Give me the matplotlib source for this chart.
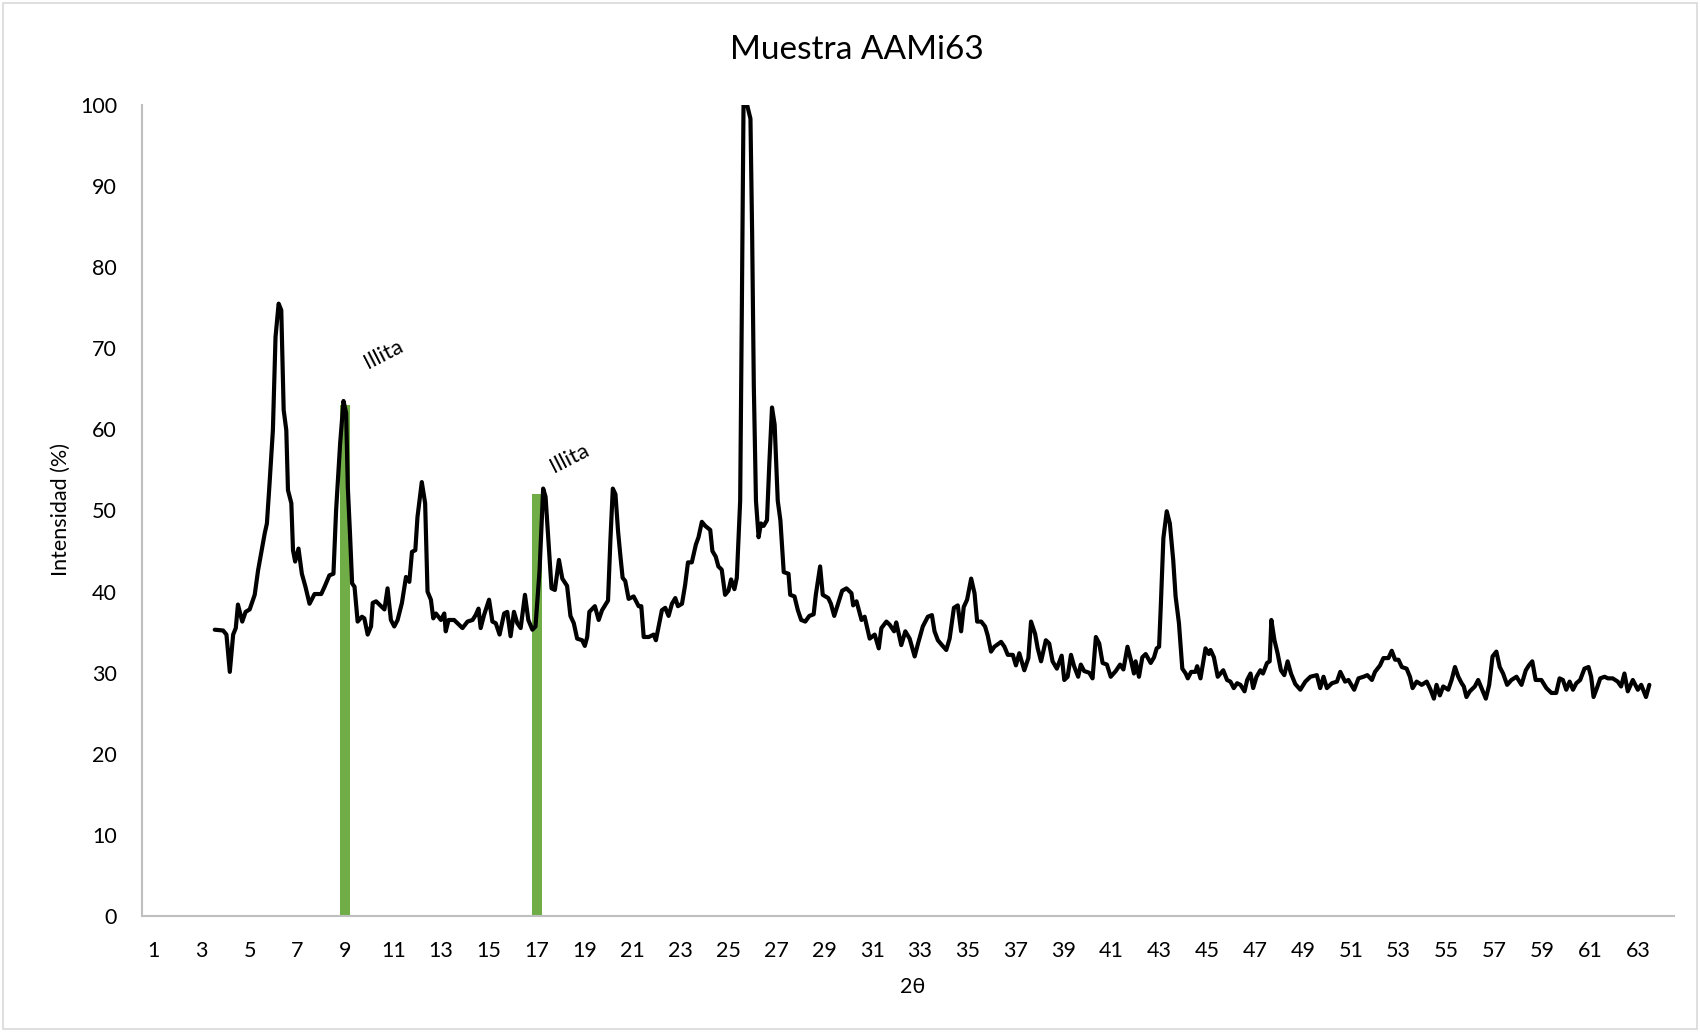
import matplotlib
matplotlib.use("Agg")
import matplotlib.pyplot as plt
import matplotlib.patches as mpatches

plt.rcParams['font.family'] = ['Lato', 'DejaVu Sans']

# Difractograma (2θ, intensidad relativa %)
two_theta = [
    3.54, 3.89, 4.03, 4.17, 4.31, 4.42, 4.51, 4.69, 4.83, 5.00,
    5.21, 5.35, 5.49, 5.63, 5.72, 5.83, 5.97, 6.08, 6.21, 6.32,
    6.42, 6.53, 6.60, 6.74, 6.81, 6.90, 7.04, 7.18, 7.33, 7.50,
    7.71, 7.99, 8.13, 8.33, 8.50, 8.61, 8.78, 8.92, 9.03, 9.10,
    9.19, 9.28, 9.38, 9.51, 9.69, 9.79, 9.93, 10.07, 10.14, 10.28,
    10.63, 10.76, 10.90, 11.04, 11.18, 11.36, 11.53, 11.67, 11.78, 11.92,
    12.01, 12.19, 12.33, 12.43, 12.57, 12.67, 12.78, 12.99, 13.13, 13.19,
    13.31, 13.54, 13.89, 14.10, 14.31, 14.44, 14.56, 14.65, 14.79, 15.00,
    15.14, 15.28, 15.44, 15.63, 15.76, 15.90, 16.04, 16.18, 16.32, 16.50,
    16.64, 16.81, 16.94, 17.11, 17.26, 17.36, 17.47, 17.61, 17.75,
    17.92, 18.06, 18.26, 18.40, 18.54, 18.68, 18.89, 19.00, 19.10, 19.19,
    19.42, 19.58, 19.72, 19.97, 20.07, 20.17, 20.28, 20.39, 20.49, 20.58,
    20.69, 20.83, 21.04, 21.25, 21.36, 21.46, 21.67, 21.88, 21.97, 22.08,
    22.22, 22.36, 22.50, 22.64, 22.78, 22.89, 23.06, 23.19, 23.31, 23.47,
    23.64, 23.75, 23.89, 24.03, 24.24, 24.33, 24.47, 24.58, 24.72, 24.86,
    25.00, 25.11, 25.25, 25.35, 25.49, 25.56, 25.63, 25.78, 25.92, 25.99,
    26.06, 26.15, 26.26, 26.36, 26.47, 26.61, 26.71, 26.82, 26.93, 27.06,
    27.17, 27.31, 27.51, 27.58, 27.76, 27.90, 28.04, 28.21, 28.38, 28.56,
    28.65, 28.83, 28.94, 29.17, 29.28, 29.42, 29.58, 29.75, 29.93,
    30.14, 30.21, 30.35, 30.56, 30.69, 30.90, 31.11, 31.28, 31.39, 31.60,
    31.74, 31.92, 32.01, 32.22, 32.39, 32.57, 32.78, 32.92, 33.12, 33.33,
    33.50, 33.61, 33.75, 33.92, 34.10, 34.24, 34.42, 34.58, 34.72, 34.83,
    34.97, 35.14, 35.28, 35.39, 35.56, 35.72, 35.83, 35.97, 36.11, 36.39,
    36.53, 36.67, 36.88, 37.01, 37.15, 37.36, 37.53, 37.64, 37.81, 37.92,
    38.06, 38.26, 38.40, 38.54, 38.72, 38.92, 39.03, 39.17, 39.31, 39.44,
    39.61, 39.72, 39.86, 40.07, 40.21, 40.35, 40.49, 40.63, 40.81, 40.97,
    41.18, 41.36, 41.50, 41.67, 41.81, 41.94, 42.01, 42.15, 42.29, 42.43,
    42.64, 42.78, 42.89, 42.99, 43.06, 43.17, 43.31, 43.44, 43.58, 43.68,
    43.82, 43.96, 44.10, 44.19, 44.33, 44.51, 44.58, 44.72, 44.93, 45.07,
    45.14, 45.28, 45.44, 45.67, 45.83, 45.97, 46.11, 46.25, 46.39, 46.56,
    46.67, 46.81, 46.92, 47.06, 47.22, 47.33, 47.50, 47.61, 47.68, 47.81,
    47.94, 48.08, 48.22, 48.36, 48.50,
    48.68, 48.89, 49.10, 49.31, 49.58, 49.72, 49.86, 50.00, 50.21, 50.42,
    50.56, 50.76, 50.90, 51.14, 51.32, 51.53, 51.69, 51.88, 52.01, 52.22,
    52.36, 52.57, 52.71, 52.85, 52.99, 53.13, 53.33, 53.47, 53.58, 53.75,
    53.96, 54.17, 54.33, 54.47, 54.58, 54.72, 54.86, 55.07, 55.21, 55.35,
    55.49, 55.63, 55.72, 55.83, 55.97, 56.18, 56.32, 56.46, 56.64, 56.78,
    56.92, 57.08, 57.22, 57.36, 57.53, 57.71, 57.92, 58.13, 58.31, 58.44,
    58.58, 58.72, 58.96, 59.17, 59.38, 59.58, 59.72, 59.86, 60.00, 60.14,
    60.28, 60.42, 60.58, 60.76, 60.93, 61.04, 61.14, 61.28, 61.42, 61.60,
    61.74, 61.94, 62.15, 62.29, 62.43, 62.57, 62.78, 62.99, 63.13, 63.33,
    63.47,
]
intensity = [
    35.3, 35.2, 34.7, 30.1, 34.7, 35.5, 38.4, 36.3, 37.5, 37.8,
    39.6, 42.6, 44.9, 47.2, 48.4, 53.3, 59.9, 71.4, 75.5, 74.7,
    62.4, 59.9, 52.5, 50.9, 45.1, 43.7, 45.3, 42.2, 40.6, 38.5,
    39.7, 39.7, 40.6, 42.0, 42.2, 50.0, 58.3, 63.5, 62.0, 52.9,
    47.2, 41.0, 40.6, 36.3, 36.9, 36.7, 34.7, 35.7, 38.6, 38.8,
    37.8, 40.4, 36.5, 35.7, 36.5, 38.6, 41.8, 41.2, 44.9, 45.1,
    49.2, 53.5, 50.9, 40.0, 39.0, 36.7, 37.3, 36.5, 37.3, 35.1,
    36.5, 36.5, 35.5, 36.3, 36.5, 37.1, 37.9, 35.5, 37.1, 39.0,
    36.3, 36.1, 34.7, 37.3, 37.5, 34.5, 37.5, 36.1, 35.5, 39.6,
    36.5, 35.3, 35.7, 42.6, 52.7, 51.7, 46.8, 40.4, 40.2,
    43.9, 41.6, 40.7, 37.0, 36.1, 34.2, 34.0, 33.3, 34.4, 37.5,
    38.2, 36.5, 37.7, 38.9, 46.4, 52.7, 52.0, 47.4, 44.3, 41.7,
    41.3, 39.1, 39.4, 38.2, 38.2, 34.4, 34.4, 34.7, 34.0, 35.6,
    37.7, 38.0, 37.0, 38.5, 39.2, 38.2, 38.5, 40.8, 43.6, 43.6,
    45.8, 46.7, 48.6, 48.1, 47.6, 45.0, 44.3, 43.1, 42.7, 39.6,
    40.1, 41.5, 40.3, 41.7, 51.2, 74.8, 100.0, 100.0, 98.3, 84.2,
    65.4, 51.2, 46.7, 48.4, 48.1, 48.8, 55.9, 62.7, 60.6, 51.2,
    48.8, 42.4, 42.2, 39.6, 39.4, 37.7, 36.5, 36.3, 37.0, 37.2,
    39.6, 43.1, 39.6, 39.2, 38.5, 37.0, 38.5, 40.1, 40.4,
    39.8, 38.3, 38.8, 36.5, 36.9, 34.2, 34.7, 33.0, 35.5, 36.3,
    35.9, 35.1, 36.2, 33.4, 35.1, 34.2, 32.0, 33.6, 35.7, 36.9,
    37.1, 35.1, 34.0, 33.4, 32.8, 34.2, 38.0, 38.3, 35.1, 38.1,
    39.0, 41.6, 39.8, 36.3, 36.3, 35.7, 34.6, 32.6, 33.2, 33.8,
    33.2, 32.2, 32.2, 30.9, 32.4, 30.3, 31.8, 36.3, 34.8, 33.0,
    31.4, 34.0, 33.6, 31.4, 30.5, 32.1, 29.1, 29.5, 32.2, 30.8,
    29.5, 31.0, 30.2, 30.0, 29.3, 34.4, 33.6, 31.2, 31.0, 29.5,
    30.2, 31.0, 30.4, 33.2, 31.6, 29.9, 31.4, 29.5, 31.9, 32.3,
    31.2, 31.9, 33.0, 33.2, 38.1, 46.6, 49.9, 48.4, 43.9, 39.4,
    36.1, 30.5, 29.9, 29.3, 30.1, 30.1, 30.8, 29.3, 33.0, 32.3,
    32.8, 31.9, 29.5, 30.3, 29.1, 28.9, 28.1, 28.7, 28.5, 27.7,
    29.1, 29.9, 28.1, 29.5, 30.3, 29.9, 31.2, 31.4, 36.5, 34.0,
    32.4, 30.3, 29.7, 31.4, 29.9,
    28.6, 27.9, 28.9, 29.5, 29.7, 28.1, 29.5, 28.1, 28.7, 28.9,
    30.1, 28.9, 29.1, 27.9, 29.3, 29.5, 29.7, 29.1, 30.1, 30.9,
    31.8, 31.8, 32.7, 31.6, 31.6, 30.7, 30.5, 29.5, 28.1, 28.9,
    28.5, 28.9, 27.9, 26.8, 28.5, 27.2, 28.3, 27.9, 29.1, 30.7,
    29.5, 28.7, 28.3, 27.0, 27.7, 28.3, 29.1, 28.1, 26.8, 28.5,
    32.0, 32.6, 30.7, 29.9, 28.5, 29.1, 29.5, 28.5, 30.3, 30.9,
    31.4, 29.1, 29.1, 28.1, 27.5, 27.5, 29.3, 29.1, 27.9, 28.9,
    27.9, 28.7, 29.1, 30.5, 30.7, 29.5, 27.0, 28.1, 29.3, 29.5,
    29.3, 29.3, 28.9, 28.3, 29.9, 27.7, 29.1, 27.9, 28.5, 27.0,
    28.5,
]

# Picos de illita marcados
illita_pos = [9, 17]
illita_height = [63, 52]
illita_label = ["Illita", "Illita"]
illita_text_xy = [(10.6, 69.2), (18.35, 56.4)]

x_ticks = list(range(1, 64, 2))
y_ticks = list(range(0, 101, 10))

fig = plt.figure(figsize=(17, 10.32), dpi=100)
ax = fig.add_axes([0.0835, 0.1124, 0.9012, 0.7859])

ax.bar(illita_pos, illita_height, width=0.42, color='#70AD47', zorder=1)
ax.plot(two_theta, intensity, color='black', linewidth=3.0,
        solid_joinstyle='round', solid_capstyle='round', zorder=3)

for (tx, ty), lbl in zip(illita_text_xy, illita_label):
    ax.text(tx, ty, lbl, rotation=27, fontsize=16, ha='center', va='center')

ax.set_xlim(0.5, 64.5)
ax.set_ylim(0, 100)
ax.set_xticks(x_ticks)
ax.set_xticklabels([str(t) for t in x_ticks])
ax.set_yticks(y_ticks)
ax.tick_params(axis='both', length=0, labelsize=15.5, colors='#000000')
ax.tick_params(axis='x', pad=18)
ax.tick_params(axis='y', pad=18)

for side in ['top', 'right']:
    ax.spines[side].set_visible(False)
for side in ['left', 'bottom']:
    ax.spines[side].set_color('#BFBFBF')
    ax.spines[side].set_linewidth(1.5)

fig.text(0.504, 0.9516, "Muestra AAMi63", fontsize=24, ha='center', va='center')
fig.text(0.537, 0.044, "2θ", fontsize=15.5, ha='center', va='center')
fig.text(0.036, 0.506, "Intensidad (%)", fontsize=15.5, rotation=90,
         ha='center', va='center')

# borde del área del gráfico
fig.patches.append(mpatches.Rectangle((0.002, 0.003), 0.996, 0.994,
                                      transform=fig.transFigure, fill=False,
                                      edgecolor='#D9D9D9', linewidth=1.2))

fig.savefig("out.png", dpi=100)
